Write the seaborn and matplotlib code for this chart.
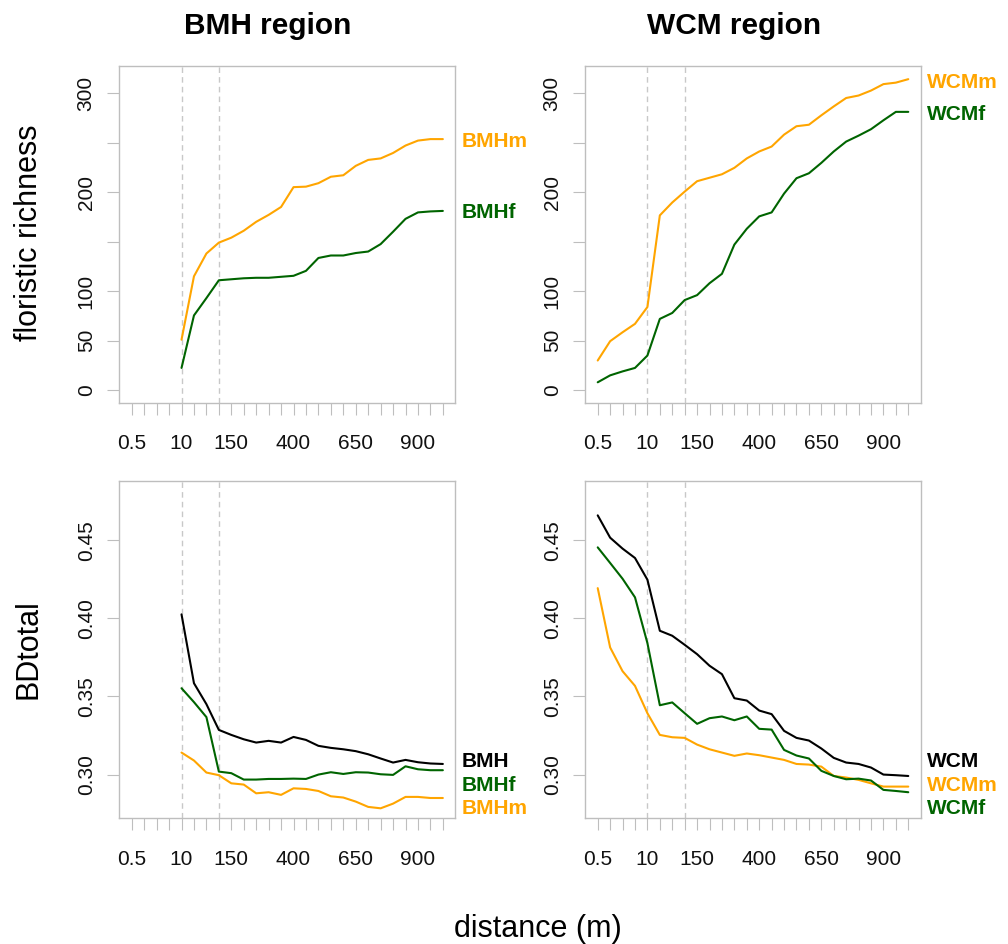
import numpy as np
import pandas as pd
import matplotlib
matplotlib.use('Agg')
import matplotlib.pyplot as plt
import seaborn as sns

# Style (font list must come after set_theme)
sns.set_theme(style="white")
plt.rcParams['font.family'] = ['Liberation Sans', 'DejaVu Sans']
plt.rcParams['text.color'] = 'black'

# Distance classes (m), one tick per class
distances = ['0.5', '1', '2', '5', '10', '25', '50', '100', '150', '200', '250', '300', '350',
             '400', '450', '500', '550', '600', '650', '700', '750', '800', '850', '900', '950', '1000']
shown_labels = ['0.5', '10', '150', '400', '650', '900']
dashed_at = ['10', '100']
bmh_start = '10'  # BMH series start at the 10 m class

# Floristic richness
bmh_m_rich = [51, 115, 138, 149, 154, 161, 170, 177, 185, 205, 205.5, 209, 215.5, 217, 226.5,
              232.5, 234, 239.5, 247, 252, 253.5, 253.5]
bmh_f_rich = [22.5, 75.5, 93, 111, 112, 113, 113.5, 113.5, 114.5, 115.5, 120.5, 133.5, 136, 136,
              138.5, 140, 147.5, 160, 173, 179.5, 180.5, 181]
wcm_m_rich = [30, 49.5, 58.5, 67, 84, 176.5, 189.5, 200.5, 211, 214.5, 218, 224.5, 234, 241, 246,
              258, 266.5, 268, 277.5, 286.5, 295, 297.5, 302.5, 309, 310.5, 314]
wcm_f_rich = [8, 15, 19, 22.5, 35, 72, 78, 91, 96, 108, 117.5, 147, 163, 175.5, 179.5, 198.5, 214,
              219, 229.5, 241, 251, 257, 263.5, 272.5, 281, 281]

# BDtotal
bmh_bd = [0.4026, 0.3585, 0.3451, 0.3286, 0.3254, 0.3226, 0.3205, 0.3216, 0.3205, 0.3241, 0.3222,
          0.3184, 0.3171, 0.3162, 0.3150, 0.3130, 0.3103, 0.3077, 0.3094, 0.3079, 0.3071, 0.3068]
bmh_f_bd = [0.3553, 0.3464, 0.3368, 0.3019, 0.3009, 0.2968, 0.2968, 0.2972, 0.2972, 0.2974, 0.2972,
            0.3000, 0.3015, 0.3004, 0.3015, 0.3013, 0.3002, 0.2998, 0.3053, 0.3034, 0.3028, 0.3028]
bmh_m_bd = [0.3141, 0.3090, 0.3013, 0.2996, 0.2944, 0.2936, 0.2880, 0.2887, 0.2870, 0.2912, 0.2908,
            0.2895, 0.2861, 0.2853, 0.2827, 0.2793, 0.2784, 0.2814, 0.2857, 0.2857, 0.2850, 0.2850]
wcm_bd = [0.4660, 0.4517, 0.4447, 0.4387, 0.4248, 0.3921, 0.3889, 0.3831, 0.3771, 0.3697, 0.3643,
          0.3489, 0.3474, 0.3410, 0.3387, 0.3280, 0.3235, 0.3218, 0.3167, 0.3107, 0.3077, 0.3068,
          0.3045, 0.3000, 0.2996, 0.2991]
wcm_f_bd = [0.4455, 0.4355, 0.4254, 0.4135, 0.3842, 0.3444, 0.3462, 0.3393, 0.3325, 0.3361, 0.3372,
            0.3348, 0.3372, 0.3293, 0.3288, 0.3158, 0.3122, 0.3103, 0.3024, 0.2991, 0.2970, 0.2974,
            0.2962, 0.2902, 0.2895, 0.2887]
wcm_m_bd = [0.4194, 0.3814, 0.3662, 0.3568, 0.3393, 0.3254, 0.3239, 0.3235, 0.3192, 0.3162, 0.3141,
            0.3120, 0.3135, 0.3124, 0.3109, 0.3094, 0.3068, 0.3064, 0.3051, 0.2991, 0.2981, 0.2966,
            0.2944, 0.2923, 0.2923, 0.2923]

# Line-end labels and where they sit (data units)
rich_bmh_labels = ['BMHm', 'BMHf']
rich_bmh_label_y = [253.5, 181]
rich_wcm_labels = ['WCMm', 'WCMf']
rich_wcm_label_y = [312.5, 280.5]
bd_bmh_labels = ['BMH', 'BMHf', 'BMHm']
bd_wcm_labels = ['WCM', 'WCMm', 'WCMf']
bd_label_y = [0.3094, 0.2945, 0.2795]

rich_ticks = [0, 50, 100, 150, 200, 250, 300]
rich_tick_labels = ['0', '50', '100', '', '200', '', '300']
bd_ticks = [0.30, 0.35, 0.40, 0.45]
bd_tick_labels = ['0.30', '0.35', '0.40', '0.45']

ORANGE = '#FFA500'
GREEN = '#006400'
BLACK = '#000000'
GRAY = '#BEBEBE'

x_all = np.arange(len(distances))
x_bmh = x_all[distances.index(bmh_start):]


def style_panel(ax, ylim, yticks, ytick_labels):
    ax.set_xlim(-1, 26)
    ax.set_ylim(*ylim)
    for x in dashed_at:
        ax.axvline(distances.index(x), color='#C8C8C8', lw=1, ls=(0, (4, 3)), zorder=0)
    ax.set_xticks(x_all)
    ax.set_xticklabels([d if d in shown_labels else '' for d in distances])
    ax.set_yticks(yticks)
    ax.set_yticklabels(ytick_labels, rotation=90, va='center')
    ax.tick_params(axis='x', bottom=True, length=8.8, width=0.8, color=GRAY, pad=14,
                   labelsize=15, labelcolor='#111111')
    ax.tick_params(axis='y', left=True, length=9, width=0.8, color=GRAY, pad=8,
                   labelsize=15, labelcolor='#111111')
    for s in ax.spines.values():
        s.set_color(GRAY)
        s.set_linewidth(1)
    ax.set_xlabel('')
    ax.set_ylabel('')


def end_labels(ax, labels, ys, colors):
    for lab, y, c in zip(labels, ys, colors):
        ax.annotate(lab, xy=(1, y), xycoords=('axes fraction', 'data'), xytext=(4.5, 0),
                    textcoords='offset points', ha='left', va='center_baseline',
                    fontsize=15, fontweight='bold', color=c, annotation_clip=False)


fig = plt.figure(figsize=(10.08, 9.44), dpi=100)
W, H = 1008, 944
ax1 = fig.add_axes([119.3 / W, 1 - 402.7 / H, 336 / W, 337 / H])
ax2 = fig.add_axes([585.3 / W, 1 - 402.7 / H, 335.4 / W, 337 / H])
ax3 = fig.add_axes([119.3 / W, 1 - 818.3 / H, 336 / W, 337.3 / H])
ax4 = fig.add_axes([585.3 / W, 1 - 818.3 / H, 335.4 / W, 337.3 / H])

lw = 1.5

# 1. BMH floristic richness
sns.lineplot(x=x_bmh, y=bmh_m_rich, color=ORANGE, lw=lw, ax=ax1)
sns.lineplot(x=x_bmh, y=bmh_f_rich, color=GREEN, lw=lw, ax=ax1)
style_panel(ax1, (-12.6, 327.6), rich_ticks, rich_tick_labels)
end_labels(ax1, rich_bmh_labels, rich_bmh_label_y, [ORANGE, GREEN])

# 2. WCM floristic richness
sns.lineplot(x=x_all, y=wcm_m_rich, color=ORANGE, lw=lw, ax=ax2)
sns.lineplot(x=x_all, y=wcm_f_rich, color=GREEN, lw=lw, ax=ax2)
style_panel(ax2, (-12.6, 327.6), rich_ticks, rich_tick_labels)
end_labels(ax2, rich_wcm_labels, rich_wcm_label_y, [ORANGE, GREEN])

# 3. BMH BDtotal
sns.lineplot(x=x_bmh, y=bmh_m_bd, color=ORANGE, lw=lw, ax=ax3)
sns.lineplot(x=x_bmh, y=bmh_f_bd, color=GREEN, lw=lw, ax=ax3)
sns.lineplot(x=x_bmh, y=bmh_bd, color=BLACK, lw=lw, ax=ax3)
style_panel(ax3, (0.272, 0.488), bd_ticks, bd_tick_labels)
end_labels(ax3, bd_bmh_labels, bd_label_y, [BLACK, GREEN, ORANGE])

# 4. WCM BDtotal
sns.lineplot(x=x_all, y=wcm_m_bd, color=ORANGE, lw=lw, ax=ax4)
sns.lineplot(x=x_all, y=wcm_f_bd, color=GREEN, lw=lw, ax=ax4)
sns.lineplot(x=x_all, y=wcm_bd, color=BLACK, lw=lw, ax=ax4)
style_panel(ax4, (0.272, 0.488), bd_ticks, bd_tick_labels)
end_labels(ax4, bd_wcm_labels, bd_label_y, [BLACK, ORANGE, GREEN])

# Titles and shared axis labels
fig.text(268 / W, 1 - 34.3 / H, 'BMH region', ha='center', va='baseline',
         fontsize=21.5, fontweight='bold', color='black')
fig.text(733.7 / W, 1 - 34.3 / H, 'WCM region', ha='center', va='baseline',
         fontsize=21.5, fontweight='bold', color='black')
fig.text(36.7 / W, 1 - 233 / H, 'floristic richness', rotation=90, rotation_mode='anchor',
         ha='center', va='baseline', fontsize=22, color='black')
fig.text(36.7 / W, 1 - 649.5 / H, 'BDtotal', rotation=90, rotation_mode='anchor',
         ha='center', va='baseline', fontsize=22, color='black')
fig.text(538 / W, 1 - 937 / H, 'distance (m)', ha='center', va='baseline', fontsize=22,
         color='black')

plt.savefig('out.png', dpi=100)
plt.close()
